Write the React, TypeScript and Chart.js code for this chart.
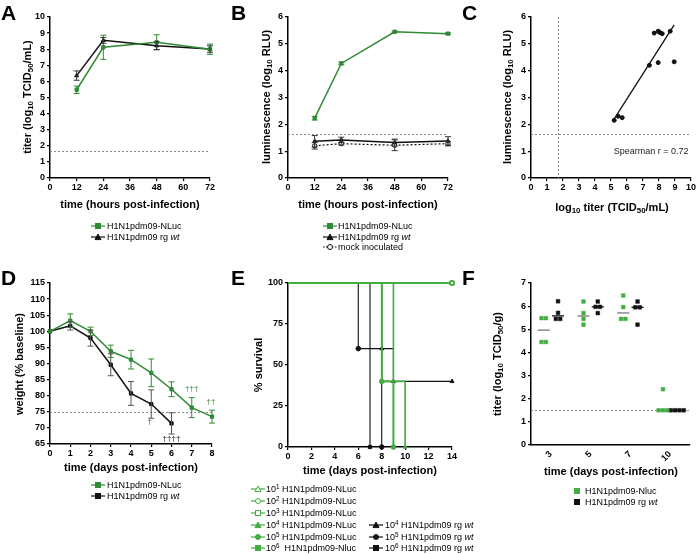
import React, { useEffect, useRef } from 'react';
import { Chart, registerables } from 'chart.js';

Chart.register(...registerables);

const FONT = '"Liberation Sans", Arial, Helvetica, sans-serif';
const GREEN = '#2f8a34';
const GREEN_E = '#42ad40';
const BLACK = '#111111';
const REF = '#8c8c8c';

// ---------------- Panel A: titer ----------------
const hoursA = [12, 24, 48, 72];
const titerNLuc = [5.48, 8.12, 8.43, 8.0];
const titerNLucSd = [0.23, 0.75, 0.47, 0.32];
const titerWt = [6.36, 8.55, 8.22, 8.01];
const titerWtSd = [0.29, 0.18, 0.24, 0.2];
const titerLimit = 1.7;

// ---------------- Panel B: luminescence ----------------
const hoursB = [12, 24, 48, 72];
const lumNLuc = [2.23, 4.27, 5.45, 5.38];
const lumNLucSd = [0.07, 0.05, 0.03, 0.03];
const lumWt = [1.37, 1.42, 1.32, 1.38];
const lumWtSd = [0.21, 0.1, 0.13, 0.16];
const lumMock = [1.2, 1.28, 1.22, 1.28];
const lumMockSd = [0.12, 0.05, 0.2, 0.08];
const lumLimit = 1.65;

// ---------------- Panel C: correlation ----------------
const corrTiter = [5.2, 5.45, 5.7, 7.4, 7.7, 7.95, 8.05, 8.2, 7.95, 8.7, 8.95];
const corrLum = [2.15, 2.3, 2.25, 4.2, 5.4, 5.47, 5.42, 5.38, 4.3, 5.47, 4.33];
const corrLimitX = 1.7;
const corrLimitY = 1.65;
const spearmanLabel = 'Spearman r = 0.72';

// ---------------- Panel D: weight ----------------
const daysD = [0, 1, 2, 3, 4, 5, 6, 7, 8];
const weightNLuc = [100, 103.3, 100, 93.8, 91.2, 87.1, 82, 76.3, 73.5];
const weightNLucSd = [0, 2.1, 1.3, 1.9, 2.9, 4.3, 2.3, 3.1, 2.0];
const daysDWt = [0, 1, 2, 3, 4, 5, 6];
const weightWt = [100, 101.7, 97.9, 89.6, 80.7, 77.4, 71.4];
const weightWtSd = [0, 1.3, 2.5, 3.4, 3.7, 4.4, 3.3];
const weightLimit = 75;
const deathDays = [4.93, 6, 7, 7.95];
const deathY = [71.8, 66.7, 82.2, 78.2];
const deathMarks = ['†', '††††', '†††', '††'];
const deathColors = ['#555555', BLACK, GREEN, GREEN];

// ---------------- Panel E: survival ----------------
const survNLuc1Days = [0, 14];
const survNLuc1Pct = [100, 100];
const survNLuc2Days = [0, 14];
const survNLuc2Pct = [100, 100];
const survNLuc3Days = [0, 14];
const survNLuc3Pct = [100, 100];
const survNLuc4Days = [0, 8, 10];
const survNLuc4Pct = [100, 40, 0];
const survNLuc5Days = [0, 8, 9];
const survNLuc5Pct = [100, 40, 0];
const survNLuc6Days = [0, 9];
const survNLuc6Pct = [100, 0];
const survWt4Days = [0, 8, 9, 14];
const survWt4Pct = [100, 60, 40, 40];
const survWt5Days = [0, 6, 8];
const survWt5Pct = [100, 60, 0];
const survWt6Days = [0, 7];
const survWt6Pct = [100, 0];

// ---------------- Panel F: lung titer ----------------
const daysF = ['3', '5', '7', '10'];
const lungNLuc = [
  [5.48, 5.48, 4.45, 4.45],
  [6.2, 5.7, 5.45, 5.2],
  [6.46, 5.96, 5.45, 5.45],
  [2.41, 1.5, 1.5, 1.5],
];
const lungWt = [
  [6.21, 5.71, 5.45, 5.45],
  [6.2, 5.97, 5.97, 5.7],
  [6.2, 5.95, 5.95, 5.2],
  [1.5, 1.5, 1.5, 1.5],
];
const lungLimit = 1.5;

// ---------------- layout helpers ----------------
type Box = { l: number; t: number; r: number; b: number };
const YW = 44, XH = 30, PT = 10, PR = 16, PB = 2;
const TICK_FONT = { family: FONT, size: 9, weight: 'bold' as const };

function linAxis(min: number, max: number, step: number, isX: boolean, extra: any = {}) {
  return {
    type: 'linear',
    min,
    max,
    afterFit: (s: any) => {
      if (isX) s.height = XH;
      else s.width = YW;
    },
    ticks: {
      stepSize: step,
      font: TICK_FONT,
      color: '#000',
      padding: isX ? 1 : 2,
      maxRotation: 0,
      minRotation: 0,
      autoSkip: false,
      ...(extra.ticks || {}),
    },
    grid: { display: true, drawOnChartArea: false, drawTicks: true, tickLength: 3, color: '#000', lineWidth: 1.2, ...(extra.grid || {}) },
    border: { display: true, color: '#000', width: 1.5 },
    ...(extra.afterBuildTicks ? { afterBuildTicks: extra.afterBuildTicks } : {}),
  };
}

function baseOptions(x: any, y: any) {
  return {
    responsive: false,
    animation: false,
    devicePixelRatio: 1,
    events: [],
    layout: { padding: { left: 0, top: PT, right: PR, bottom: PB } },
    plugins: { legend: { display: false }, tooltip: { enabled: false } },
    scales: { x, y },
  };
}

function series(xs: number[], ys: number[], color: string, style: string, opts: any = {}) {
  return {
    data: xs.map((x, i) => ({ x, y: ys[i] })),
    borderColor: color,
    backgroundColor: color,
    pointBackgroundColor: color,
    pointBorderColor: color,
    pointStyle: style,
    pointRadius: 2.3,
    pointBorderWidth: 1,
    borderWidth: 1.5,
    tension: 0,
    clip: false,
    ...opts,
  };
}

function refLinesPlugin(h: number[], v: number[]) {
  return {
    id: 'refLines',
    beforeDatasetsDraw(chart: any) {
      const { ctx, chartArea: a, scales } = chart;
      ctx.save();
      ctx.strokeStyle = REF;
      ctx.lineWidth = 1;
      ctx.setLineDash([2, 2]);
      h.forEach((val) => {
        const py = Math.round(scales.y.getPixelForValue(val)) + 0.5;
        ctx.beginPath();
        ctx.moveTo(a.left, py);
        ctx.lineTo(a.right, py);
        ctx.stroke();
      });
      v.forEach((val) => {
        const px = Math.round(scales.x.getPixelForValue(val)) + 0.5;
        ctx.beginPath();
        ctx.moveTo(px, a.top);
        ctx.lineTo(px, a.bottom);
        ctx.stroke();
      });
      ctx.restore();
    },
  };
}

function errorBarsPlugin(specs: { ds: number; sd: number[]; color: string }[]) {
  return {
    id: 'errorBars',
    afterDatasetsDraw(chart: any) {
      const { ctx, scales } = chart;
      ctx.save();
      specs.forEach((s) => {
        const meta = chart.getDatasetMeta(s.ds);
        const data = chart.data.datasets[s.ds].data;
        ctx.strokeStyle = s.color;
        ctx.lineWidth = 1;
        meta.data.forEach((pt: any, i: number) => {
          const e = s.sd[i];
          if (!e) return;
          const v = data[i].y;
          const top = scales.y.getPixelForValue(v + e);
          const bot = scales.y.getPixelForValue(v - e);
          ctx.beginPath();
          ctx.moveTo(pt.x, top);
          ctx.lineTo(pt.x, bot);
          ctx.moveTo(pt.x - 3, top);
          ctx.lineTo(pt.x + 3, top);
          ctx.moveTo(pt.x - 3, bot);
          ctx.lineTo(pt.x + 3, bot);
          ctx.stroke();
        });
      });
      ctx.restore();
    },
  };
}

function textPlugin(items: { x: number; y: number; text: string; color: string; size: number; align?: string }[]) {
  return {
    id: 'textMarks',
    afterDatasetsDraw(chart: any) {
      const { ctx, scales } = chart;
      ctx.save();
      items.forEach((it) => {
        ctx.font = `${it.size}px ${FONT}`;
        ctx.fillStyle = it.color;
        ctx.textAlign = it.align || 'center';
        ctx.textBaseline = 'middle';
        ctx.fillText(it.text, scales.x.getPixelForValue(it.x), scales.y.getPixelForValue(it.y));
      });
      ctx.restore();
    },
  };
}

function ChartBox({ box, make }: { box: Box; make: () => any }) {
  const ref = useRef<HTMLCanvasElement>(null);
  useEffect(() => {
    const chart = new Chart(ref.current as HTMLCanvasElement, make());
    return () => chart.destroy();
  }, []);
  const w = box.r - box.l + YW + PR;
  const h = box.b - box.t + PT + XH + PB;
  return (
    <canvas
      ref={ref}
      width={w}
      height={h}
      style={{ position: 'absolute', left: box.l - YW, top: box.t - PT, width: w, height: h }}
    />
  );
}

// ---------------- chart configs ----------------
const boxA: Box = { l: 50, t: 17, r: 210, b: 178 };
const boxB: Box = { l: 288, t: 17, r: 448, b: 178 };
const boxC: Box = { l: 531, t: 17, r: 691, b: 178 };
const boxD: Box = { l: 50, t: 283, r: 212, b: 444 };
const boxE: Box = { l: 288, t: 283, r: 452, b: 447 };
const boxF: Box = { l: 531, t: 283, r: 690, b: 445 };

const makeA = () => ({
  type: 'line',
  data: {
    datasets: [
      series(hoursA, titerNLuc, GREEN, 'rect'),
      series(hoursA, titerWt, BLACK, 'triangle'),
    ],
  },
  options: baseOptions(linAxis(0, 72, 12, true), linAxis(0, 10, 1, false)),
  plugins: [
    refLinesPlugin([titerLimit], []),
    errorBarsPlugin([
      { ds: 0, sd: titerNLucSd, color: GREEN },
      { ds: 1, sd: titerWtSd, color: '#333' },
    ]),
  ],
});

const makeB = () => ({
  type: 'line',
  data: {
    datasets: [
      series(hoursB, lumNLuc, GREEN, 'rect'),
      series(hoursB, lumWt, BLACK, 'triangle'),
      series(hoursB, lumMock, BLACK, 'circle', { borderDash: [2, 2], borderWidth: 1.2, pointBackgroundColor: '#fff', pointRadius: 2.2 }),
    ],
  },
  options: baseOptions(linAxis(0, 72, 12, true), linAxis(0, 6, 1, false)),
  plugins: [
    refLinesPlugin([lumLimit], []),
    errorBarsPlugin([
      { ds: 0, sd: lumNLucSd, color: GREEN },
      { ds: 1, sd: lumWtSd, color: '#333' },
      { ds: 2, sd: lumMockSd, color: '#333' },
    ]),
  ],
});

function fitLine(xs: number[], ys: number[]) {
  const n = xs.length;
  const mx = xs.reduce((a, b) => a + b, 0) / n;
  const my = ys.reduce((a, b) => a + b, 0) / n;
  let sxy = 0, sxx = 0;
  xs.forEach((x, i) => {
    sxy += (x - mx) * (ys[i] - my);
    sxx += (x - mx) * (x - mx);
  });
  const slope = sxy / sxx;
  const icpt = my - slope * mx;
  const x0 = Math.min(...xs), x1 = Math.max(...xs);
  return { xs: [x0, x1], ys: [icpt + slope * x0, icpt + slope * x1] };
}

const makeC = () => {
  const fit = fitLine(corrTiter, corrLum);
  return {
    type: 'line',
    data: {
      datasets: [
        series(corrTiter, corrLum, BLACK, 'circle', { showLine: false, pointRadius: 2 }),
        series(fit.xs, fit.ys, BLACK, 'circle', { pointRadius: 0, borderWidth: 1.3 }),
      ],
    },
    options: baseOptions(linAxis(0, 10, 1, true), linAxis(0, 6, 1, false)),
    plugins: [
      refLinesPlugin([corrLimitY], [corrLimitX]),
      textPlugin([{ x: 9.85, y: 1.0, text: spearmanLabel, color: '#222', size: 9, align: 'right' }]),
    ],
  };
};

const makeD = () => ({
  type: 'line',
  data: {
    datasets: [
      series(daysD, weightNLuc, GREEN, 'rect'),
      series(daysDWt, weightWt, BLACK, 'rect'),
    ],
  },
  options: baseOptions(linAxis(0, 8, 1, true), linAxis(65, 115, 5, false)),
  plugins: [
    refLinesPlugin([weightLimit], []),
    errorBarsPlugin([
      { ds: 0, sd: weightNLucSd, color: GREEN },
      { ds: 1, sd: weightWtSd, color: '#555' },
    ]),
    textPlugin(deathDays.map((d, i) => ({ x: d, y: deathY[i], text: deathMarks[i], color: deathColors[i], size: 8 }))),
  ],
});

const surv = (xs: number[], ys: number[], color: string, style: string, open: boolean, width: number) =>
  series(xs, ys, color, style, {
    stepped: true,
    borderWidth: width,
    pointRadius: (c: any) => (c.dataIndex === 0 ? 0 : 2.3),
    pointBackgroundColor: open ? '#fff' : color,
    pointBorderWidth: open ? 1.3 : 1,
  });

const makeE = () => ({
  type: 'line',
  data: {
    datasets: [
      surv(survNLuc3Days, survNLuc3Pct, GREEN_E, 'rect', true, 1.6),
      surv(survNLuc2Days, survNLuc2Pct, GREEN_E, 'circle', true, 1.6),
      surv(survNLuc1Days, survNLuc1Pct, GREEN_E, 'triangle', true, 1.6),
      surv(survNLuc6Days, survNLuc6Pct, GREEN_E, 'rect', false, 1.6),
      surv(survNLuc5Days, survNLuc5Pct, GREEN_E, 'circle', false, 1.6),
      surv(survNLuc4Days, survNLuc4Pct, GREEN_E, 'triangle', false, 1.6),
      surv(survWt6Days, survWt6Pct, BLACK, 'rect', false, 1.1),
      surv(survWt5Days, survWt5Pct, BLACK, 'circle', false, 1.1),
      surv(survWt4Days, survWt4Pct, BLACK, 'triangle', false, 1.1),
    ],
  },
  options: baseOptions(linAxis(0, 14, 2, true), linAxis(0, 100, 25, false)),
  plugins: [],
});

function spread(groups: number[][], center: number) {
  const pts: { x: number; y: number }[] = [];
  groups.forEach((vals, gi) => {
    vals.forEach((v, i) => {
      const same = vals.map((w, j) => ({ w, j })).filter((o) => Math.abs(o.w - v) < 0.01);
      const k = same.findIndex((o) => o.j === i);
      const n = same.length;
      pts.push({ x: gi + center + (k - (n - 1) / 2) * 0.11, y: v });
    });
  });
  return pts;
}

function medians(groups: number[][], center: number) {
  return groups.map((vals, gi) => {
    const s = [...vals].sort((a, b) => a - b);
    const m = s.length % 2 ? s[(s.length - 1) / 2] : (s[s.length / 2 - 1] + s[s.length / 2]) / 2;
    return { x: gi + center, y: m };
  });
}

const makeF = () => {
  const pt = (data: any[], color: string, opts: any = {}) => ({
    data,
    showLine: false,
    borderColor: color,
    backgroundColor: color,
    pointBackgroundColor: color,
    pointBorderColor: color,
    pointStyle: 'rect',
    pointRadius: 2.6,
    pointBorderWidth: 0.5,
    clip: false,
    ...opts,
  });
  return {
    type: 'line',
    data: {
      datasets: [
        pt(spread(lungNLuc, -0.18), GREEN_E),
        pt(spread(lungWt, 0.18), BLACK),
        pt(medians(lungNLuc, -0.18), '#777', { pointStyle: 'line', pointRadius: 6, pointBorderWidth: 1.3 }),
        pt(medians(lungWt, 0.18), BLACK, { pointStyle: 'line', pointRadius: 6, pointBorderWidth: 1.3 }),
      ],
    },
    options: baseOptions(
      linAxis(-0.5, 3.5, 1, true, {
        ticks: { minRotation: 45, maxRotation: 45, padding: 4, callback: (v: number) => daysF[v] ?? '' },
        grid: { drawTicks: false },
        afterBuildTicks: (axis: any) => {
          axis.ticks = daysF.map((_, i) => ({ value: i }));
        },
      }),
      linAxis(0, 7, 1, false),
    ),
    plugins: [refLinesPlugin([lungLimit], [])],
  };
};

// ---------------- HTML text helpers ----------------
const Sub = ({ children }: any) => (
  <span style={{ fontSize: '0.72em', position: 'relative', top: '0.3em' }}>{children}</span>
);
const Sup = ({ children }: any) => (
  <span style={{ fontSize: '0.7em', position: 'relative', top: '-0.4em' }}>{children}</span>
);
const Wt = () => <span style={{ fontStyle: 'italic' }}>wt</span>;

function T({ x, y, size = 11, bold = true, rotate = false, children }: any) {
  return (
    <div
      style={{
        position: 'absolute',
        left: x,
        top: y,
        transform: `translate(-50%,-50%)${rotate ? ' rotate(-90deg)' : ''}`,
        whiteSpace: 'nowrap',
        fontSize: size,
        fontWeight: bold ? 700 : 400,
        lineHeight: 1,
        fontFamily: FONT,
        color: '#000',
      }}
    >
      {children}
    </div>
  );
}

function Letter({ x, y, children }: any) {
  return (
    <div style={{ position: 'absolute', left: x, top: y, fontSize: 21, fontWeight: 700, lineHeight: 1, fontFamily: FONT }}>
      {children}
    </div>
  );
}

function Sym({ color, shape, open = false, dash = false, line = true }: any) {
  const fill = open ? '#fff' : color;
  return (
    <svg width={14} height={8} style={{ display: 'block' }}>
      {line && (
        <line x1={0} y1={4} x2={14} y2={4} stroke={color} strokeWidth={1.2} strokeDasharray={dash ? '1.5 1.5' : undefined} />
      )}
      {shape === 'rect' && <rect x={4.5} y={1.5} width={5} height={5} fill={fill} stroke={color} strokeWidth={1} />}
      {shape === 'circle' && <circle cx={7} cy={4} r={2.5} fill={fill} stroke={color} strokeWidth={1} />}
      {shape === 'triangle' && <polygon points="7,1 10,6.6 4,6.6" fill={fill} stroke={color} strokeWidth={1} />}
    </svg>
  );
}

function LegendRow({ x, y, tx, sym, children }: any) {
  return (
    <>
      <div style={{ position: 'absolute', left: x, top: y - 4 }}>{sym}</div>
      <div
        style={{
          position: 'absolute',
          left: tx,
          top: y,
          transform: 'translateY(-50%)',
          whiteSpace: 'nowrap',
          fontSize: 9,
          lineHeight: 1,
          fontFamily: FONT,
          color: '#000',
        }}
      >
        {children}
      </div>
    </>
  );
}

export default function App() {
  return (
    <div
      style={{
        position: 'absolute',
        left: 0,
        top: 0,
        width: 696,
        height: 554,
        overflow: 'hidden',
        background: '#fff',
        fontFamily: FONT,
      }}
    >
      <ChartBox box={boxA} make={makeA} />
      <ChartBox box={boxB} make={makeB} />
      <ChartBox box={boxC} make={makeC} />
      <ChartBox box={boxD} make={makeD} />
      <ChartBox box={boxE} make={makeE} />
      <ChartBox box={boxF} make={makeF} />

      <Letter x={1} y={2}>A</Letter>
      <Letter x={231} y={2}>B</Letter>
      <Letter x={462} y={2}>C</Letter>
      <Letter x={1} y={267}>D</Letter>
      <Letter x={231} y={267}>E</Letter>
      <Letter x={462} y={267}>F</Letter>

      {/* y titles */}
      <T x={27} y={97} rotate>
        titer (log<Sub>10</Sub> TCID<Sub>50</Sub>/mL)
      </T>
      <T x={266} y={97} rotate>
        luminescence (log<Sub>10</Sub> RLU)
      </T>
      <T x={507} y={97} rotate>
        luminescence (log<Sub>10</Sub> RLU)
      </T>
      <T x={19} y={364} rotate>
        weight (% baseline)
      </T>
      <T x={258} y={365} rotate>
        % survival
      </T>
      <T x={497} y={364} rotate>
        titer (log<Sub>10</Sub> TCID<Sub>50</Sub>/g)
      </T>

      {/* x titles */}
      <T x={130} y={204}>time (hours post-infection)</T>
      <T x={368} y={204}>time (hours post-infection)</T>
      <T x={612} y={207}>
        log<Sub>10</Sub> titer (TCID<Sub>50</Sub>/mL)
      </T>
      <T x={131} y={467}>time (days post-infection)</T>
      <T x={370} y={470}>time (days post-infection)</T>
      <T x={611} y={471}>time (days post-infection)</T>

      {/* legend A */}
      <LegendRow x={91} y={226} tx={107} sym={<Sym color={GREEN} shape="rect" />}>H1N1pdm09-NLuc</LegendRow>
      <LegendRow x={91} y={237} tx={107} sym={<Sym color={BLACK} shape="triangle" />}>
        H1N1pdm09 rg <Wt />
      </LegendRow>

      {/* legend B */}
      <LegendRow x={323} y={226} tx={338} sym={<Sym color={GREEN} shape="rect" />}>H1N1pdm09-NLuc</LegendRow>
      <LegendRow x={323} y={237} tx={338} sym={<Sym color={BLACK} shape="triangle" />}>
        H1N1pdm09 rg <Wt />
      </LegendRow>
      <LegendRow x={323} y={247} tx={338} sym={<Sym color={BLACK} shape="circle" open dash />}>mock inoculated</LegendRow>

      {/* legend D */}
      <LegendRow x={91} y={485} tx={107} sym={<Sym color={GREEN} shape="rect" />}>H1N1pdm09-NLuc</LegendRow>
      <LegendRow x={91} y={496} tx={107} sym={<Sym color={BLACK} shape="rect" />}>
        H1N1pdm09 rg <Wt />
      </LegendRow>

      {/* legend E */}
      <LegendRow x={251} y={489} tx={266} sym={<Sym color={GREEN_E} shape="triangle" open />}>
        10<Sup>1</Sup> H1N1pdm09-NLuc
      </LegendRow>
      <LegendRow x={251} y={501} tx={266} sym={<Sym color={GREEN_E} shape="circle" open />}>
        10<Sup>2</Sup> H1N1pdm09-NLuc
      </LegendRow>
      <LegendRow x={251} y={513} tx={266} sym={<Sym color={GREEN_E} shape="rect" open />}>
        10<Sup>3</Sup> H1N1pdm09-NLuc
      </LegendRow>
      <LegendRow x={251} y={525} tx={266} sym={<Sym color={GREEN_E} shape="triangle" />}>
        10<Sup>4</Sup> H1N1pdm09-NLuc
      </LegendRow>
      <LegendRow x={251} y={537} tx={266} sym={<Sym color={GREEN_E} shape="circle" />}>
        10<Sup>5</Sup> H1N1pdm09-NLuc
      </LegendRow>
      <LegendRow x={251} y={548} tx={266} sym={<Sym color={GREEN_E} shape="rect" />}>
        10<Sup>6</Sup>&nbsp; H1N1pdm09-Nluc
      </LegendRow>
      <LegendRow x={369} y={525} tx={385} sym={<Sym color={BLACK} shape="triangle" />}>
        10<Sup>4</Sup> H1N1pdm09 rg <Wt />
      </LegendRow>
      <LegendRow x={369} y={537} tx={385} sym={<Sym color={BLACK} shape="circle" />}>
        10<Sup>5</Sup> H1N1pdm09 rg <Wt />
      </LegendRow>
      <LegendRow x={369} y={548} tx={385} sym={<Sym color={BLACK} shape="rect" />}>
        10<Sup>6</Sup> H1N1pdm09 rg <Wt />
      </LegendRow>

      {/* legend F */}
      <LegendRow x={570} y={491} tx={585} sym={<Sym color={GREEN_E} shape="rect" line={false} />}>H1N1pdm09-Nluc</LegendRow>
      <LegendRow x={570} y={502} tx={585} sym={<Sym color={BLACK} shape="rect" line={false} />}>
        H1N1pdm09 rg <Wt />
      </LegendRow>
    </div>
  );
}
